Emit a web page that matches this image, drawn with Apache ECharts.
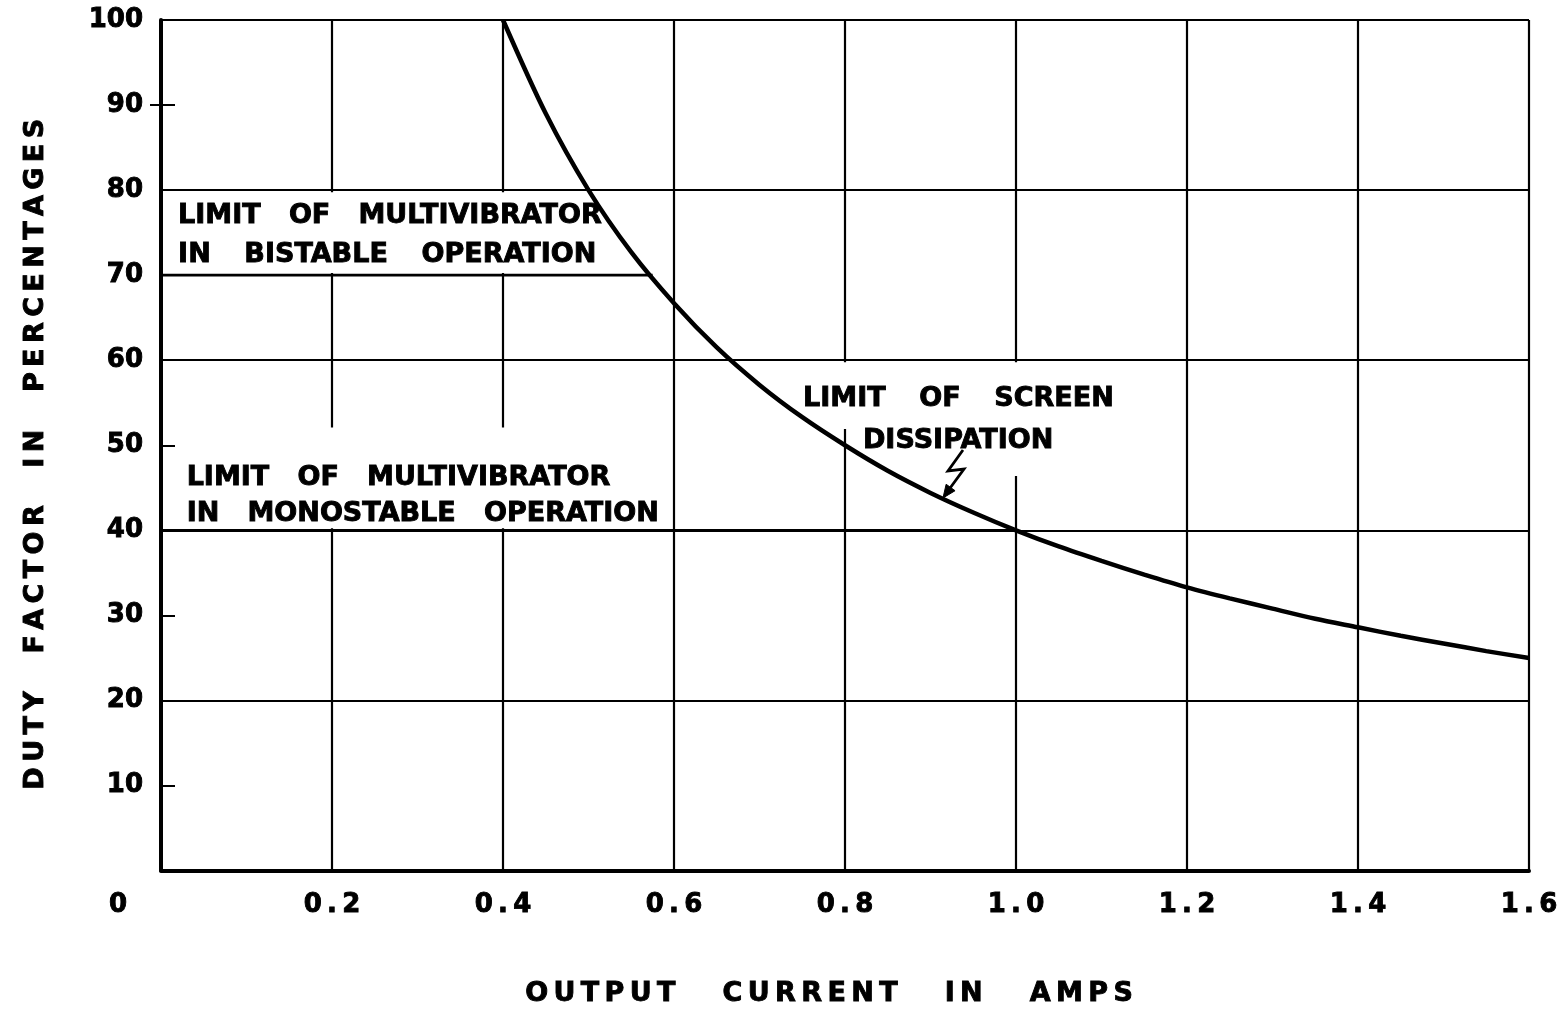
<!DOCTYPE html>
<html>
<head>
<meta charset="utf-8">
<script src="https://cdn.jsdelivr.net/npm/echarts@6/dist/echarts.min.js"></script>
<style>
html,body{margin:0;padding:0;background:#fff;}
#c{width:1562px;height:1013px;}
</style>
</head>
<body>
<div id="c"></div>
<script>
// ---- data ----
const xTickLabels = ['0','0.2','0.4','0.6','0.8','1.0','1.2','1.4','1.6'];
const yTickLabels = ['','10','20','30','40','50','60','70','80','90','100'];

// Limit of screen dissipation (output current A, duty factor %)
const screenCurrent = [0.40,0.45,0.50,0.55,0.60,0.65,0.70,0.75,0.80,0.85,0.90,0.95,1.00,1.05,1.10,1.15,1.20,1.25,1.30,1.35,1.40,1.45,1.50,1.55,1.60];
const screenDuty    = [100, 89,  80,  72.7,66.7,61.5,57.1,53.3,50,  47,  44.4,42.1,40,  38.1,36.4,34.8,33.3,32,  30.8,29.6,28.6,27.6,26.7,25.8,25];

// Limit of multivibrator in bistable operation
const bistableCurrent = [0, 0.575];
const bistableDuty    = [70, 70];

// Limit of multivibrator in monostable operation
const monostableCurrent = [0, 1.0];
const monostableDuty    = [40, 40];

const xTitle = 'OUTPUT CURRENT IN AMPS';
const yTitle = 'DUTY FACTOR IN PERCENTAGES';
const bistableText = ['LIMIT OF MULTIVIBRATOR', 'IN BISTABLE OPERATION'];
const monostableText = ['LIMIT OF MULTIVIBRATOR', 'IN MONOSTABLE OPERATION'];
const screenText = ['LIMIT OF SCREEN', 'DISSIPATION'];

// ---- helpers ----
const FONT = '"DejaVu Sans", "Liberation Sans", sans-serif';
const TS = '\u2009';
function spreadLetters(s, wordSpaces) {
  return s.split(' ').map(w => w.split('').join(TS)).join(' '.repeat(wordSpaces));
}
function wordGap(s, sep) { return s.split(' ').join(sep); }
function zip(a, b) { return a.map((v, i) => [v, b[i]]); }

const chart = echarts.init(document.getElementById('c'), null, {renderer: 'canvas'});

const INK = {textBorderColor: '#000', textBorderWidth: 0.9};
const labelStyle = Object.assign({fontSize: 26, fontWeight: 'bold', fontFamily: FONT, color: '#000'}, INK);

const option = {
  backgroundColor: '#fff',
  animation: false,
  grid: {left: 161, top: 20, right: 33, bottom: 141, containLabel: false},
  xAxis: {
    type: 'value', min: 0, max: 1.6, interval: 0.2,
    name: spreadLetters(xTitle, 5),
    nameLocation: 'middle', nameGap: 110,
    nameTextStyle: Object.assign({fontSize: 27, fontWeight: 'bold', fontFamily: FONT, color: '#000', padding: [0, 32, 0, 0]}, INK),
    axisLine: {show: true, lineStyle: {color: '#000', width: 4}},
    axisTick: {show: false},
    splitLine: {show: true, lineStyle: {color: '#000', width: 2.2}},
    axisLabel: {
      margin: 22,
      showMinLabel: true, showMaxLabel: true,
      formatter: function (v) {
        const s = xTickLabels[Math.round(v / 0.2)].split('').join(TS);
        return v === 0 ? '{z|' + s + '}' : '{n|' + s + '}';
      },
      rich: {
        n: Object.assign({}, labelStyle),
        z: Object.assign({}, labelStyle, {padding: [0, 86, 0, 0]})
      }
    }
  },
  yAxis: [
    {
      type: 'value', min: 0, max: 100, interval: 10, position: 'left',
      name: spreadLetters(yTitle, 4),
      nameLocation: 'middle', nameGap: 112, nameRotate: 90,
      nameTextStyle: Object.assign({fontSize: 27, fontWeight: 'bold', fontFamily: FONT, color: '#000', padding: [0, 18, 0, 0]}, INK),
      axisLine: {show: true, lineStyle: {color: '#000', width: 4}},
      axisTick: {show: true, inside: true, length: 14, lineStyle: {color: '#000', width: 2}},
      splitLine: {show: false},
      axisLabel: Object.assign({
        margin: 18,
        color: '#000', fontSize: 26, fontWeight: 'bold', fontFamily: FONT,
        formatter: function (v) { return yTickLabels[Math.round(v / 10)]; }
      }, INK)
    },
    {
      type: 'value', min: 0, max: 100, interval: 20, position: 'left',
      axisLine: {show: false}, axisTick: {show: false}, axisLabel: {show: false},
      splitLine: {show: true, lineStyle: {color: '#000', width: 2.2}}
    },
    {
      type: 'value', min: 0, max: 100, interval: 10, position: 'left',
      axisLine: {show: false}, axisLabel: {show: false}, splitLine: {show: false},
      axisTick: {show: true, inside: false, length: 11, customValues: [90], lineStyle: {color: '#000', width: 2}}
    }
  ],
  series: [
    {
      name: 'Bistable limit', type: 'line', z: 2,
      data: zip(bistableCurrent, bistableDuty),
      showSymbol: false, symbol: 'none',
      lineStyle: {color: '#000', width: 2.6},
      markArea: {
        silent: true,
        itemStyle: {color: '#fff', opacity: 1, borderWidth: 0},
        data: [
          [{coord: [0.05, 79.75]}, {coord: [0.565, 70.25]}],
          [{coord: [0.05, 52.1]}, {coord: [0.593, 40.25]}],
          [{coord: [0.78, 59.75]}, {coord: [0.82, 51.9]}],
          [{coord: [0.98, 59.75]}, {coord: [1.02, 46.4]}]
        ]
      }
    },
    {
      name: 'Monostable limit', type: 'line', z: 3,
      data: zip(monostableCurrent, monostableDuty),
      showSymbol: false, symbol: 'none',
      lineStyle: {color: '#000', width: 2.6}
    },
    {
      name: 'Screen dissipation limit', type: 'line', z: 4,
      data: zip(screenCurrent, screenDuty),
      smooth: 0.3,
      showSymbol: false, symbol: 'none',
      lineStyle: {color: '#000', width: 4.5}
    }
  ]
};

chart.setOption(option);

// ---- annotations placed via data coordinates ----
function px(x, y) { return chart.convertToPixel({seriesIndex: 0}, [x, y]); }
function txt(s, x, y, size) {
  const p = px(x, y);
  return {
    type: 'text', x: p[0], y: p[1], z: 10, silent: true,
    style: {text: s, fill: '#000', fontSize: size, fontWeight: 'bold', fontFamily: FONT,
            align: 'left', verticalAlign: 'middle', stroke: '#000', lineWidth: 0.9}
  };
}
const tip = px(0.9146, 43.8);
const arrowPts = [[20, -48], [5, -27], [21, -29], [2, -3]].map(d => [tip[0] + d[0], tip[1] + d[1]]);
const dx = -21, dy = 29, L = Math.hypot(dx, dy), ux = dx / L, uy = dy / L;
const hl = 13, hw = 5.5;
const head = [
  [tip[0], tip[1]],
  [tip[0] - ux * hl - uy * hw, tip[1] - uy * hl + ux * hw],
  [tip[0] - ux * hl + uy * hw, tip[1] - uy * hl - ux * hw]
];

const G3 = '   ', G3T = '   ' + TS;
chart.setOption({
  graphic: [
    txt(wordGap(bistableText[0], G3), 0.020, 76.9, 27),
    txt(wordGap(bistableText[1], G3T), 0.020, 72.4, 27),
    txt(wordGap(monostableText[0], G3), 0.030, 46.1, 27),
    txt(wordGap(monostableText[1], G3), 0.030, 41.9, 27),
    txt(wordGap(screenText[0], G3T), 0.751, 55.4, 27),
    txt(screenText[1], 0.821, 50.5, 27),
    {type: 'polyline', z: 10, silent: true, shape: {points: arrowPts},
     style: {stroke: '#000', lineWidth: 2.8, fill: null}},
    {type: 'polygon', z: 10, silent: true, shape: {points: head},
     style: {fill: '#000', stroke: '#000', lineWidth: 1}}
  ]
});
</script>
</body>
</html>
